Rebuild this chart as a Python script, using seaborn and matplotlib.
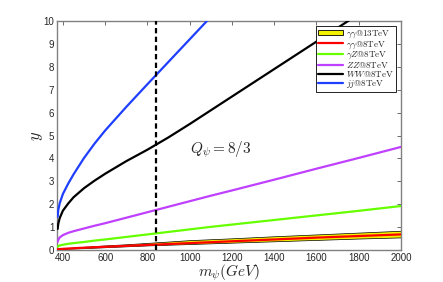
import numpy as np
import pandas as pd
import matplotlib
matplotlib.use("Agg")
import matplotlib.pyplot as plt
import seaborn as sns
from matplotlib.patches import Patch
from matplotlib.lines import Line2D

# ---- data ----
mass = [375, 378, 385, 400, 425, 450, 500, 550, 600, 700, 800, 900, 1000,
        1100, 1200, 1400, 1600, 1800, 2000]
aa13_low = [0.02, 0.025, 0.03, 0.04, 0.055, 0.065, 0.08, 0.10, 0.12, 0.16, 0.20, 0.23, 0.26,
            0.29, 0.32, 0.38, 0.44, 0.50, 0.55]
aa13_up = [0.04, 0.045, 0.055, 0.07, 0.09, 0.11, 0.14, 0.17, 0.20, 0.25, 0.31, 0.37, 0.43,
           0.47, 0.51, 0.60, 0.68, 0.76, 0.84]
aa8 = [0.03, 0.035, 0.04, 0.05, 0.065, 0.075, 0.10, 0.12, 0.14, 0.18, 0.22, 0.26, 0.30,
       0.34, 0.38, 0.46, 0.54, 0.61, 0.68]
aZ8 = [0.14, 0.17, 0.20, 0.23, 0.27, 0.30, 0.35, 0.41, 0.46, 0.57, 0.68, 0.79, 0.90,
       1.01, 1.11, 1.31, 1.51, 1.71, 1.92]
ZZ8 = [0.36, 0.45, 0.55, 0.65, 0.75, 0.82, 0.94, 1.06, 1.17, 1.41, 1.65, 1.89, 2.13,
       2.37, 2.60, 3.07, 3.55, 4.02, 4.50]
mass_ww = [375, 378, 385, 400, 425, 450, 500, 550, 600, 700, 800, 900, 1000,
           1200, 1400, 1600, 1800]
WW8 = [0.92, 1.15, 1.40, 1.72, 2.03, 2.30, 2.70, 3.03, 3.33, 3.88, 4.38, 4.92, 5.50,
       6.70, 7.90, 9.10, 10.30]
mass_jj = [375, 378, 385, 400, 425, 450, 500, 550, 600, 700, 800, 900, 1000, 1100]
jj8 = [1.45, 1.75, 2.05, 2.45, 2.90, 3.30, 4.02, 4.65, 5.22, 6.25, 7.24, 8.22, 9.20, 10.18]
m_line = 840
labels = [r"$\gamma\gamma\mathrm{@13TeV}$", r"$\gamma\gamma\mathrm{@8TeV}$",
          r"$\gamma Z\mathrm{@8TeV}$", r"$ZZ\mathrm{@8TeV}$",
          r"$WW\mathrm{@8TeV}$", r"$jj\mathrm{@8TeV}$"]
xticks = [400, 600, 800, 1000, 1200, 1400, 1600, 1800, 2000]
yticks = list(range(0, 11))

sns.set_theme(style="white")
plt.rcParams["font.family"] = ["Liberation Sans", "DejaVu Sans"]
plt.rcParams["mathtext.fontset"] = "cm"

fig = plt.figure(figsize=(4.43, 2.82), dpi=100)
ax = fig.add_axes([0.1287, 0.1135, 0.905 - 0.1287, 0.9255 - 0.1135])

ax.fill_between(mass, aa13_low, aa13_up, facecolor="#f2f200", edgecolor="black",
                linewidth=0.5, zorder=2)
df = pd.DataFrame({"m": mass, "aa8": aa8, "aZ8": aZ8, "ZZ8": ZZ8})
sns.lineplot(data=df, x="m", y="aa8", color="#ff0000", lw=1.6, ax=ax, zorder=3)
sns.lineplot(data=df, x="m", y="aZ8", color="#66ff00", lw=1.6, ax=ax, zorder=3)
sns.lineplot(data=df, x="m", y="ZZ8", color="#bf40ff", lw=1.6, ax=ax, zorder=3)
sns.lineplot(x=mass_ww, y=WW8, color="black", lw=1.6, ax=ax, zorder=3)
sns.lineplot(x=mass_jj, y=jj8, color="#1f3fff", lw=1.6, ax=ax, zorder=3)
ax.axvline(m_line, color="black", lw=1.6, ls=(0, (2.4, 1.5)), zorder=4)

ax.set_xlim(372, 2000)
ax.set_ylim(0, 10)
ax.set_xticks(xticks)
ax.set_yticks(yticks)
ax.tick_params(direction="in", length=3, width=0.6, color="#555555", labelsize=7,
               top=True, right=True, pad=2)
for s in ax.spines.values():
    s.set_color("#808080")
    s.set_linewidth(1.0)
ax.set_xlabel(r"$m_\psi(GeV)$", fontsize=11, labelpad=0)
ax.set_ylabel(r"$y$", fontsize=12, labelpad=-1)
ax.text(1000, 4.2, r"$Q_\psi = 8/3$", fontsize=11)

handles = [Patch(facecolor="#f2f200", edgecolor="black", linewidth=0.6),
           Line2D([], [], color="#ff0000", lw=1.6),
           Line2D([], [], color="#66ff00", lw=1.6),
           Line2D([], [], color="#bf40ff", lw=1.6),
           Line2D([], [], color="black", lw=1.6),
           Line2D([], [], color="#1f3fff", lw=1.6)]
leg = ax.legend(handles, labels, loc="upper right", bbox_to_anchor=(0.985, 0.978),
                fontsize=6.5, frameon=True, fancybox=False, framealpha=1,
                edgecolor="black", handlelength=2.8, handleheight=0.5,
                labelspacing=-0.12, borderpad=0.25, handletextpad=0.3,
                borderaxespad=0.0)
leg.get_frame().set_linewidth(0.6)

fig.savefig("out.png", dpi=100)
